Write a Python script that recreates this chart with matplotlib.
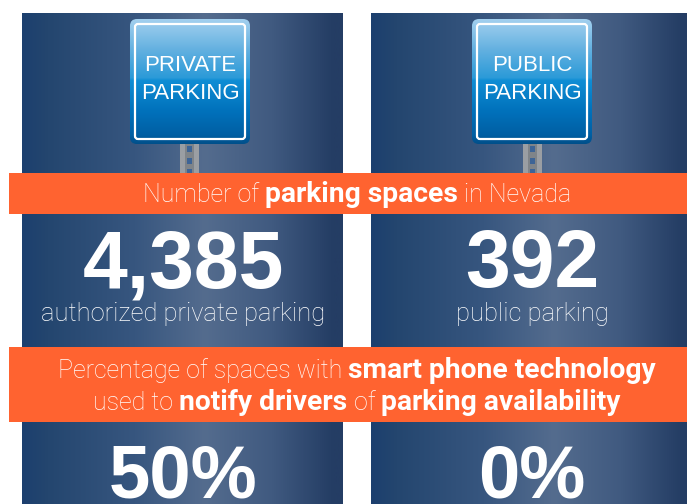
import numpy as np
import matplotlib
matplotlib.use('Agg')
import matplotlib.pyplot as plt
from matplotlib.colors import LinearSegmentedColormap
from matplotlib.patches import FancyBboxPatch, Rectangle

W, H = 687, 504

# values
sign_labels = ['PRIVATE\nPARKING', 'PUBLIC\nPARKING']
space_counts = ['4,385', '392']
space_captions = ['authorized private parking', 'public parking']
smart_share = ['50%', '0%']
banner1 = [[('Number of ', 'light'), ('parking spaces', 'bold'), (' in Nevada', 'light')]]
banner2 = [[('Percentage of spaces with ', 'light'), ('smart phone technology', 'bold')],
           [('used to ', 'light'), ('notify drivers', 'bold'), (' of ', 'light'), ('parking availability', 'bold')]]

orange = '#ff6330'
panel_cmap = LinearSegmentedColormap.from_list('panel', [
    (0.0, '#1c3f6e'), (0.08, '#24466f'), (0.35, '#37567f'), (0.57, '#546c8e'),
    (0.78, '#405a80'), (0.97, '#243d64'), (1.0, '#243d64')])
sign_cmap = LinearSegmentedColormap.from_list('sign', [
    (0.0, '#a3d0ef'), (0.25, '#62b0e0'), (0.47, '#2b9ad8'), (0.49, '#0f8ed5'),
    (0.75, '#0070ba'), (0.93, '#005fa3'), (1.0, '#004f8a')])

fig = plt.figure(figsize=(W / 100, H / 100), dpi=100, facecolor='white')
ax = fig.add_axes([0, 0, 1, 1])
ax.set_xlim(0, W)
ax.set_ylim(H, 0)
ax.axis('off')

grad = np.linspace(0, 1, 256)[None, :]
vgrad = np.linspace(0, 1, 256)[:, None]

panels = [(22, 343), (371, 692)]
signs = [130, 472]
posts = [180, 523]
centers = [183, 532]
sizes = {'light': 18.0, 'bold': 20.3}


def rich_line(segments, cx, y):
    # bold and light pieces on one line, centred as a group
    r = fig.canvas.get_renderer()
    items = []
    total = 0
    for s, w in segments:
        t = ax.text(0, y, s.replace(' ', '\u00a0'), family='Roboto', fontweight=w, fontsize=sizes[w],
                    color='white', va='baseline', ha='left', zorder=8)
        wd = t.get_window_extent(r).width
        items.append((t, wd))
        total += wd
    x = cx - total / 2
    for t, wd in items:
        t.set_x(x)
        x += wd


for i in range(2):
    x0, x1 = panels[i]
    ax.imshow(grad, cmap=panel_cmap, extent=[x0, x1, 504, 13], aspect='auto', zorder=1)

    # post
    px = posts[i]
    ax.add_patch(Rectangle((px, 144), 19, 30, fc='#9a9ea3', ec='none', zorder=2))
    ax.add_patch(Rectangle((px + 5, 144), 9, 30, fc='#7f8489', ec='none', zorder=2))
    for yy in [149, 161, 172]:
        ax.add_patch(Rectangle((px + 7, yy - 3), 5, 6, fc='#3d6496', ec='none', zorder=3))

    # sign
    sx = signs[i]
    outer = FancyBboxPatch((sx + 5, 24), 110, 115, boxstyle='round,pad=5,rounding_size=7',
                           fc='none', ec='none', zorder=3)
    ax.add_patch(outer)
    im = ax.imshow(vgrad, cmap=sign_cmap, extent=[sx, sx + 120, 144, 19], aspect='auto', zorder=3)
    im.set_clip_path(outer)
    ax.add_patch(FancyBboxPatch((sx + 5, 24), 110, 115, boxstyle='round,pad=0,rounding_size=3',
                                fc='none', ec='white', lw=1.6, zorder=4))
    ax.text(sx + 60, 79.5, sign_labels[i], family='Liberation Sans', fontsize=16, color='white',
            ha='center', va='center', linespacing=1.45, zorder=5)

    # numbers
    ax.text(centers[i], 287, space_counts[i], family='Liberation Sans', fontweight='bold', fontsize=58,
            color='white', ha='center', va='baseline', zorder=5)
    ax.text(centers[i], 314.5, space_captions[i], family='Roboto', fontweight='light', fontsize=18.4,
            color='white', ha='center', va='center', zorder=5)
    ax.text(centers[i], 498, smart_share[i], family='Liberation Sans', fontweight='bold', fontsize=53.5,
            color='white', ha='center', va='baseline', zorder=5, clip_on=True)

# orange bands
ax.add_patch(Rectangle((9, 173), 678, 41, fc=orange, ec='none', zorder=6))
ax.add_patch(Rectangle((9, 347), 678, 75, fc=orange, ec='none', zorder=6))

rich_line(banner1[0], 357, 202.5)
rich_line(banner2[0], 357, 378)
rich_line(banner2[1], 357, 410)

ax.set_xlim(0, W)
ax.set_ylim(H, 0)
fig.savefig('out.png', dpi=100)
